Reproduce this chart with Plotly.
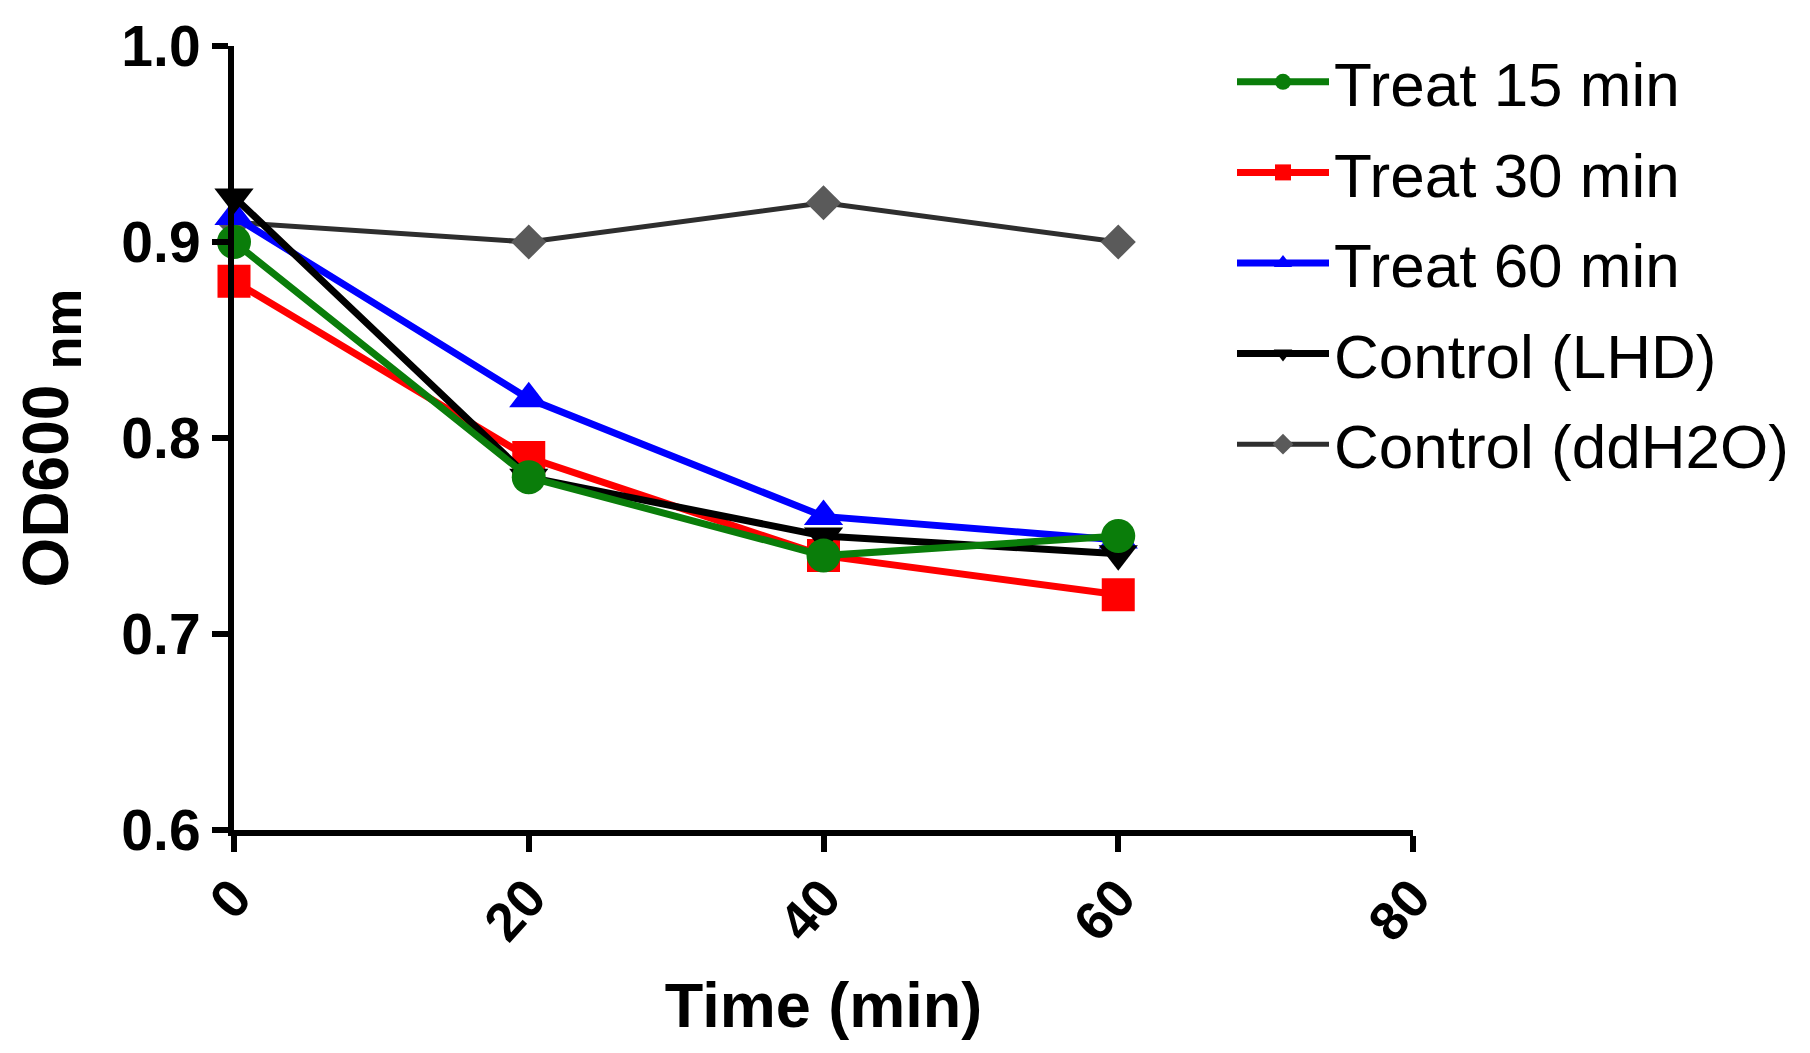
import plotly.graph_objects as go

time_min = [0, 20, 40, 60]
treat_15 = [0.90, 0.78, 0.74, 0.75]
treat_30 = [0.88, 0.79, 0.74, 0.72]
treat_60 = [0.913, 0.82, 0.76, 0.748]
control_lhd = [0.923, 0.78, 0.75, 0.741]
control_ddh2o = [0.91, 0.90, 0.92, 0.90]

x_ticks = [0, 20, 40, 60, 80]
y_ticks = [0.6, 0.7, 0.8, 0.9, 1.0]
y_tick_labels = ["0.6", "0.7", "0.8", "0.9", "1.0"]

W, H = 1810, 1053
ML, MR, MT, MB = 226, 40, 38, 231
plot_w = W - ML - MR
plot_h = H - MT - MB
x_end = (1405 - ML) / plot_w

fig = go.Figure()

def add(name, y, color, symbol, size, rank, lw=7, mcolor=None):
    fig.add_trace(go.Scatter(
        x=time_min, y=y, name=name, mode="lines+markers",
        line=dict(color=color, width=lw),
        marker=dict(symbol=symbol, size=size, color=mcolor or color,
                    line=dict(width=0)),
        cliponaxis=False, legendrank=rank, legendgroup=name,
    ))

# draw order (bottom -> top); legend order via legendrank
add("Control (ddH2O)", control_ddh2o, "#2e2e2e", "diamond", 27, 5, lw=5, mcolor="#5a5a5a")
add("Treat 30 min", treat_30, "#ff0000", "square", 33, 2)
add("Treat 60 min", treat_60, "#0000ff", "triangle-up", 34, 3)
add("Control (LHD)", control_lhd, "#000000", "triangle-down", 34, 4)
add("Treat 15 min", treat_15, "#0a7d0a", "circle", 34, 1)

fig.update_layout(
    width=W, height=H,
    margin=dict(l=ML, r=MR, t=MT, b=MB, autoexpand=False),
    paper_bgcolor="white", plot_bgcolor="white",
    font=dict(family="Liberation Sans", color="black"),
    legend=dict(
        x=(1224 - ML) / plot_w, xanchor="left", y=1 + 11 / plot_h, yanchor="top",
        xref="paper", yref="paper",
        font=dict(family="Liberation Sans", size=62, color="black"),
        itemwidth=92, bgcolor="rgba(0,0,0,0)",
        traceorder="grouped", tracegroupgap=7,
    ),
    showlegend=True,
)

fig.update_xaxes(
    domain=[0, x_end], automargin=False,
    range=[0, 80], tickvals=x_ticks, ticktext=[str(v) for v in x_ticks],
    showgrid=False, zeroline=False, showline=True, linecolor="black", linewidth=6,
    ticks="outside", ticklen=16, tickwidth=6, tickcolor="black",
    tickangle=-48, ticklabelstandoff=-8,
    tickfont=dict(family="Liberation Sans", size=54, color="black", weight="bold"),
    title=dict(text="Time (min)", font=dict(family="Liberation Sans", size=63, color="black", weight="bold"), standoff=34),
)
fig.update_yaxes(
    automargin=False,
    range=[0.6, 1.0], tickvals=y_ticks, ticktext=y_tick_labels,
    showgrid=False, zeroline=False, showline=True, linecolor="black", linewidth=6,
    ticks="outside", ticklen=16, tickwidth=6, tickcolor="black",
    tickfont=dict(family="Liberation Sans", size=57, color="black", weight="bold"),
    title=dict(text="OD600<sub><span style='font-size:54px'> nm</span></sub>",
               font=dict(family="Liberation Sans", size=64, color="black", weight="bold"), standoff=34),
)

fig.write_html("out.html")
